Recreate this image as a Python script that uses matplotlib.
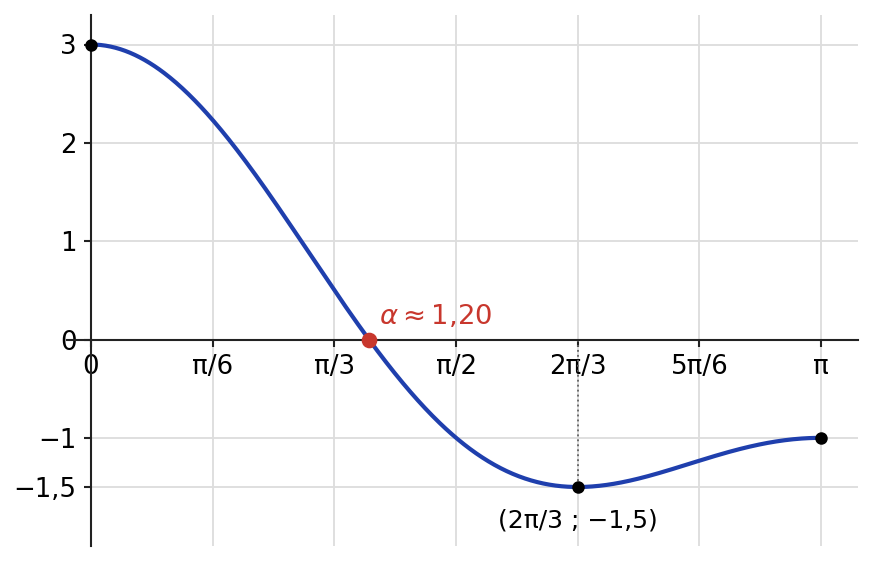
import numpy as np
import matplotlib
matplotlib.use("Agg")
import matplotlib.pyplot as plt

# f(x) = a*cos(x) + b*cos(2x)
coef_a = 2.0
coef_b = 1.0
x_ticks = [0, np.pi/6, np.pi/3, np.pi/2, 2*np.pi/3, 5*np.pi/6, np.pi]
x_tick_labels = ["0", "π/6", "π/3", "π/2", "2π/3", "5π/6", "π"]
y_ticks = [3, 2, 1, 0, -1, -1.5]
y_tick_labels = ["3", "2", "1", "0", "−1", "−1,5"]
key_x = [0, 2*np.pi/3, np.pi]
key_y = [3, -1.5, -1]
alpha_x = 1.196
alpha_label = r"$\alpha \approx 1{,}20$"
min_label = "(2π/3 ; −1,5)"

def f(x):
    return coef_a*np.cos(x) + coef_b*np.cos(2*x)

dpi = 150
fig = plt.figure(figsize=(872/dpi, 561/dpi), dpi=dpi)
ax = fig.add_axes([91/872, 1-546/561, (858-91)/872, (546-15)/561])

xs = np.linspace(0, np.pi, 600)
ax.plot(xs, f(xs), color="#1f3fad", lw=2, zorder=3)
ax.plot(key_x, key_y, "o", color="black", ms=5, zorder=4, clip_on=False)
ax.plot([alpha_x], [0], "o", color="#c8372d", ms=6.5, zorder=5)
ax.plot([key_x[1], key_x[1]], [0, key_y[1]], ls=":", color="#666666", lw=0.9, zorder=2)
# short extension of the x axis line to the left of the y axis
ax.plot([-0.103, 0], [0, 0], color="#222222", lw=1.0, clip_on=False, zorder=2)

ax.text(alpha_x + 0.045, 0.1, alpha_label, color="#c8372d", fontsize=13.2, ha="left", va="bottom")
ax.text(key_x[1], key_y[1] - 0.22, min_label, fontsize=12, ha="center", va="top", color="black")

ax.set_xlim(0, 3.30)
ax.set_ylim(-2.1, 3.3)
ax.set_xticks(x_ticks)
ax.set_xticklabels(x_tick_labels)
ax.set_yticks(y_ticks)
ax.set_yticklabels(y_tick_labels)
ax.spines["left"].set_position(("data", 0))
ax.spines["bottom"].set_position(("data", 0))
ax.spines["top"].set_visible(False)
ax.spines["right"].set_visible(False)
for s in ("left", "bottom"):
    ax.spines[s].set_color("#222222")
    ax.spines[s].set_linewidth(1.0)
ax.tick_params(direction="out", length=3.5, width=1, colors="#222222",
               labelcolor="black", labelsize=12.5)
ax.grid(True, color="#dddddd", lw=0.9, zorder=0)
ax.set_axisbelow(True)

fig.savefig("out.png", dpi=dpi)
